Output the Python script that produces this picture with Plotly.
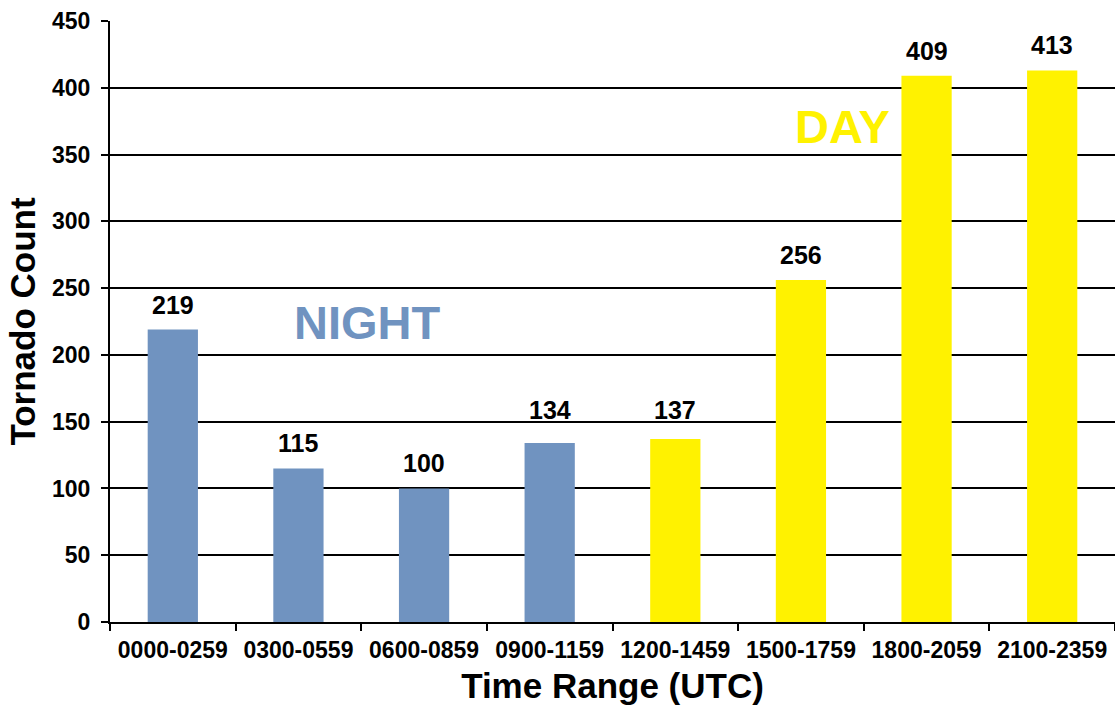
import plotly.graph_objects as go

categories = ["0000-0259", "0300-0559", "0600-0859", "0900-1159",
              "1200-1459", "1500-1759", "1800-2059", "2100-2359"]
counts = [219, 115, 100, 134, 137, 256, 409, 413]
period = ["night", "night", "night", "night", "day", "day", "day", "day"]
y_ticks = [0, 50, 100, 150, 200, 250, 300, 350, 400, 450]

BLUE = "#7093C0"
YELLOW = "#FFF200"
colors = [BLUE if p == "night" else YELLOW for p in period]

FONT = "Liberation Sans"
GRID_STEP = 50

fig = go.Figure()
fig.add_trace(go.Bar(
    x=categories, y=counts, marker=dict(color=colors, line=dict(width=0)),
    width=0.4, cliponaxis=False, hoverinfo="skip",
))

# value labels: placed just above the bar, but lifted above a gridline
# when they would otherwise sit on top of it
for c, v in zip(categories, counts):
    next_grid = (v // GRID_STEP + 1) * GRID_STEP
    if next_grid - v < 25:
        y_pos, shift = next_grid - 3, 0
    else:
        y_pos, shift = v, 9
    fig.add_annotation(x=c, y=y_pos, xref="x", yref="y", text=f"<b>{v}</b>",
                       showarrow=False, yanchor="bottom", yshift=shift,
                       font=dict(family=FONT, size=25, color="black"))

fig.add_annotation(x=1.55, y=224, xref="x", yref="y", text="<b>NIGHT</b>",
                   showarrow=False, font=dict(family=FONT, size=47, color=BLUE))
fig.add_annotation(x=5.33, y=371, xref="x", yref="y", text="<b>DAY</b>",
                   showarrow=False, font=dict(family=FONT, size=47, color=YELLOW))

fig.update_layout(
    width=1115, height=709,
    margin=dict(l=110, r=0, t=21, b=87),
    paper_bgcolor="white", plot_bgcolor="white",
    showlegend=False, bargap=0.6,
    font=dict(family=FONT, color="black"),
)
fig.update_yaxes(
    range=[0, 450], tickvals=y_ticks, showgrid=True, gridcolor="black", gridwidth=1.5,
    showline=True, linecolor="black", linewidth=2, ticks="outside", ticklen=7,
    tickcolor="black", tickwidth=1.5, zeroline=False, ticklabelstandoff=6,
    tickfont=dict(family=FONT, size=23, color="black", weight="bold"),
    title=dict(text="<b>Tornado Count</b>", font=dict(family=FONT, size=35, color="black"), standoff=6),
)
fig.update_xaxes(
    showline=True, linecolor="black", linewidth=2, ticks="outside", ticklen=7,
    tickson="boundaries", tickcolor="black", tickwidth=1.5, showgrid=False,
    ticklabelstandoff=6,
    tickfont=dict(family=FONT, size=23, color="black", weight="bold"),
    title=dict(text="<b>Time Range (UTC)</b>", font=dict(family=FONT, size=35, color="black"), standoff=12),
)

fig.write_html("out.html", config={"displayModeBar": False},
               post_script="document.body.style.margin='0';")
